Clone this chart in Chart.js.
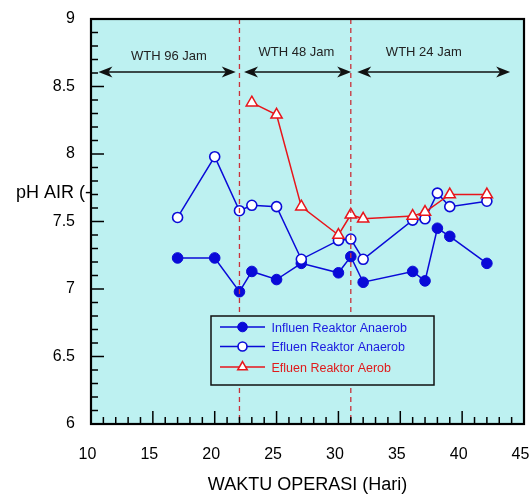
<!DOCTYPE html>
<html>
<head>
<meta charset="utf-8">
<script src="https://cdn.jsdelivr.net/npm/chart.js@4.4.0/dist/chart.umd.min.js"></script>
<style>
  html, body { margin: 0; padding: 0; background: #fff; }
</style>
</head>
<body>
<canvas id="myChart" width="532" height="502"></canvas>
<script>
// data pH per hari operasi
var days = [17, 20, 22, 23, 25, 27, 30, 31, 32, 36, 37, 38, 39, 42];
var influenAnaerob = [7.23, 7.23, 6.98, 7.13, 7.07, 7.19, 7.12, 7.24, 7.05, 7.13, 7.06, 7.45, 7.39, 7.19];
var efluenAnaerob = [7.53, 7.98, 7.58, 7.62, 7.61, 7.22, 7.36, 7.37, 7.22, 7.51, 7.52, 7.71, 7.61, 7.65];
var daysAerob = [23, 25, 27, 30, 31, 32, 36, 37, 39, 42];
var efluenAerob = [8.38, 8.29, 7.61, 7.40, 7.55, 7.52, 7.54, 7.57, 7.70, 7.70];
var seriesNames = ['Influen Reaktor Anaerob', 'Efluen Reaktor Anaerob', 'Efluen Reaktor Aerob'];

var xTicks = [10, 15, 20, 25, 30, 35, 40, 45];
var yTicks = [6, 6.5, 7, 7.5, 8, 8.5, 9];

// batas periode WTH (garis putus-putus) dan panah keterangan
var batasWTH = [22, 31];
var wthLabel = ['WTH 96 Jam', 'WTH 48 Jam', 'WTH 24 Jam'];
var wthLabelX = [16.3, 26.6, 36.9];
var wthLabelY = [8.70, 8.725, 8.725];
var wthFrom = [10.6, 22.37, 31.52];
var wthTo = [21.7, 31.03, 43.88];
var wthArrowY = 8.607;

var FONT = '"Liberation Sans", Arial, Helvetica, sans-serif';
var BIRU = '#0a0ad8';
var MERAH = '#e8151b';
var LATAR = '#bdf1f1';

function toXY(xs, ys) {
  return xs.map(function(x, i) { return { x: x, y: ys[i] }; });
}

function kepala(ctx, x, y, d) {
  ctx.beginPath();
  ctx.moveTo(x, y);
  ctx.lineTo(x - d * 14, y - 5.5);
  ctx.lineTo(x - d * 10, y);
  ctx.lineTo(x - d * 14, y + 5.5);
  ctx.closePath();
  ctx.fill();
}

var bingkai = {
  id: 'bingkai',
  beforeDraw: function(chart) {
    var ctx = chart.ctx, a = chart.chartArea;
    ctx.save();
    // judul sumbu y, sebagian tertutup area plot seperti aslinya
    ctx.font = '18px ' + FONT;
    ctx.fillStyle = '#000';
    ctx.textBaseline = 'alphabetic';
    ctx.textAlign = 'left';
    ctx.fillText('pH AIR (-)', 16, 198);
    ctx.fillStyle = LATAR;
    ctx.fillRect(a.left, a.top, a.right - a.left, a.bottom - a.top);
    ctx.restore();
  },
  afterDatasetsDraw: function(chart) {
    var ctx = chart.ctx, a = chart.chartArea;
    var xs = chart.scales.x, ys = chart.scales.y;
    ctx.save();

    // garis batas WTH
    ctx.strokeStyle = '#c8323a';
    ctx.lineWidth = 1.3;
    ctx.setLineDash([5, 4]);
    batasWTH.forEach(function(v) {
      var px = xs.getPixelForValue(v);
      ctx.beginPath();
      ctx.moveTo(px, a.top);
      ctx.lineTo(px, a.bottom);
      ctx.stroke();
    });
    ctx.setLineDash([]);

    // panah dan label WTH
    ctx.strokeStyle = '#111';
    ctx.fillStyle = '#111';
    ctx.lineWidth = 1.5;
    var py = ys.getPixelForValue(wthArrowY);
    for (var i = 0; i < wthLabel.length; i++) {
      var x0 = xs.getPixelForValue(wthFrom[i]);
      var x1 = xs.getPixelForValue(wthTo[i]);
      ctx.beginPath();
      ctx.moveTo(x0 + 4, py);
      ctx.lineTo(x1 - 4, py);
      ctx.stroke();
      kepala(ctx, x1, py, 1);
      kepala(ctx, x0, py, -1);
      ctx.font = '13px ' + FONT;
      ctx.fillStyle = '#222';
      ctx.textAlign = 'center';
      ctx.textBaseline = 'alphabetic';
      ctx.fillText(wthLabel[i], xs.getPixelForValue(wthLabelX[i]), ys.getPixelForValue(wthLabelY[i]));
      ctx.fillStyle = '#111';
    }

    // legenda
    var lx = xs.getPixelForValue(19.7), ly = ys.getPixelForValue(6.8);
    var lw = 223, lh = 69;
    ctx.fillStyle = LATAR;
    ctx.fillRect(lx, ly, lw, lh);
    ctx.strokeStyle = '#111';
    ctx.lineWidth = 1.5;
    ctx.strokeRect(lx, ly, lw, lh);
    var rows = [11, 30.5, 51];
    chart.data.datasets.forEach(function(ds, k) {
      var ry = ly + rows[k];
      var mx = lx + 31.5;
      ctx.strokeStyle = ds.borderColor;
      ctx.lineWidth = 1.5;
      ctx.beginPath();
      ctx.moveTo(lx + 9, ry);
      ctx.lineTo(lx + 54, ry);
      ctx.stroke();
      ctx.fillStyle = ds.pointBackgroundColor;
      ctx.strokeStyle = ds.pointBorderColor;
      ctx.lineWidth = ds.pointBorderWidth;
      ctx.beginPath();
      if (ds.pointStyle === 'triangle') {
        var r = ds.pointRadius - 1;
        ctx.moveTo(mx, ry - r);
        ctx.lineTo(mx + r * 0.866, ry + r / 2);
        ctx.lineTo(mx - r * 0.866, ry + r / 2);
        ctx.closePath();
      } else {
        ctx.arc(mx, ry, ds.pointRadius - 0.5, 0, Math.PI * 2);
      }
      ctx.fill();
      ctx.stroke();
      ctx.font = '12.5px ' + FONT;
      ctx.fillStyle = ds.borderColor === MERAH ? '#e01a1a' : '#1a1ae0';
      ctx.textAlign = 'left';
      ctx.textBaseline = 'alphabetic';
      ctx.fillText(ds.label, lx + 60.5, ry + 4.5);
    });

    // bingkai dan tick ke dalam
    ctx.strokeStyle = '#000';
    ctx.lineWidth = 1.5;
    for (var v = 10; v <= 45; v++) {
      var tx = xs.getPixelForValue(v);
      var len = v % 5 === 0 ? 13 : 7;
      ctx.beginPath();
      ctx.moveTo(tx, a.bottom);
      ctx.lineTo(tx, a.bottom - len);
      ctx.stroke();
    }
    for (var k2 = 60; k2 <= 90; k2++) {
      var ty = ys.getPixelForValue(k2 / 10);
      var len2 = k2 % 5 === 0 ? 13 : 7;
      ctx.beginPath();
      ctx.moveTo(a.left, ty);
      ctx.lineTo(a.left + len2, ty);
      ctx.stroke();
    }
    ctx.lineWidth = 2.2;
    ctx.strokeRect(a.left, a.top, a.right - a.left, a.bottom - a.top);
    ctx.restore();
  }
};

var ctx = document.getElementById('myChart');
var phChart = new Chart(ctx, {
  type: 'line',
  data: {
    datasets: [{
      label: seriesNames[0],
      data: toXY(days, influenAnaerob),
      borderColor: BIRU,
      backgroundColor: BIRU,
      borderWidth: 1.5,
      pointStyle: 'circle',
      pointRadius: 5.3,
      pointBorderWidth: 1,
      pointBackgroundColor: BIRU,
      pointBorderColor: BIRU,
      order: 2
    }, {
      label: seriesNames[1],
      data: toXY(days, efluenAnaerob),
      borderColor: BIRU,
      backgroundColor: '#fff',
      borderWidth: 1.5,
      pointStyle: 'circle',
      pointRadius: 5,
      pointBorderWidth: 1.6,
      pointBackgroundColor: '#fff',
      pointBorderColor: BIRU,
      order: 1
    }, {
      label: seriesNames[2],
      data: toXY(daysAerob, efluenAerob),
      borderColor: MERAH,
      backgroundColor: '#fff',
      borderWidth: 1.5,
      pointStyle: 'triangle',
      pointRadius: 6.5,
      pointBorderWidth: 1.5,
      pointBackgroundColor: '#fff',
      pointBorderColor: MERAH,
      order: 0
    }]
  },
  options: {
    responsive: false,
    animation: false,
    layout: { padding: { top: 19, right: 7.5, left: 0, bottom: 0 } },
    plugins: {
      legend: { display: false },
      tooltip: { enabled: false }
    },
    scales: {
      x: {
        type: 'linear',
        min: 10,
        max: 45,
        afterBuildTicks: function(s) { s.ticks = xTicks.map(function(v) { return { value: v }; }); },
        afterFit: function(s) { s.height = 78; s.paddingLeft = 0; s.paddingRight = 0; },
        grid: { display: false, drawTicks: false },
        border: { display: false },
        ticks: { font: { size: 16, family: FONT }, color: '#000', padding: 21, labelOffset: -3.5, maxRotation: 0, autoSkip: false },
        title: {
          display: true,
          text: 'WAKTU OPERASI (Hari)',
          font: { size: 18, family: FONT },
          color: '#000',
          padding: { top: 0, bottom: 6 }
        }
      },
      y: {
        min: 6,
        max: 9,
        afterBuildTicks: function(s) { s.ticks = yTicks.map(function(v) { return { value: v }; }); },
        afterFit: function(s) { s.width = 91; s.paddingTop = 0; s.paddingBottom = 0; },
        grid: { display: false, drawTicks: false },
        border: { display: false },
        ticks: {
          font: { size: 16, family: FONT },
          color: '#000',
          padding: 16,
          callback: function(v) { return String(v); }
        }
      }
    }
  },
  plugins: [bingkai]
});
</script>
</body>
</html>
